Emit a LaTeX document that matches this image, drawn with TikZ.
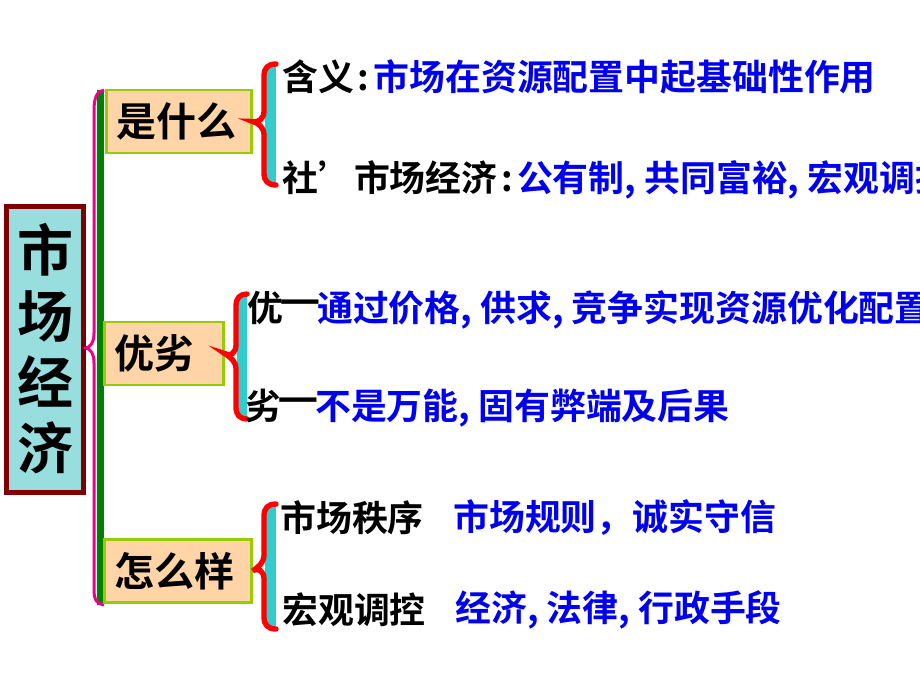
\documentclass[tikz,border=0pt]{standalone}
\usepackage{fontspec}
\setmainfont{Noto Sans CJK SC Bold}
\definecolor{peach}{HTML}{FFD5A8}
\definecolor{lime}{HTML}{99CC00}
\definecolor{teal2}{HTML}{33CCCC}
\definecolor{mcyan}{HTML}{99DEDE}
\definecolor{dred}{HTML}{800000}
\definecolor{tblue}{HTML}{0000F0}
\definecolor{dgreen}{HTML}{008000}
\newcommand{\cln}{\hspace{3pt}:\hspace{3pt}}
\newcommand{\ldash}{\makebox[0.95em][c]{\raisebox{0.16em}{\scalebox{1.28}[1.3]{—}}}}
\begin{document}
\begin{tikzpicture}[x=0.75pt,y=-0.75pt,
  catbox/.style={draw=lime, line width=2pt, fill=peach, font=\fontsize{30}{36}\selectfont,
    inner xsep=7.5pt, inner ysep=0pt, anchor=west, minimum height=47.25pt, align=left},
  item/.style={anchor=west, inner sep=0pt, font=\fontsize{26.9}{30}\selectfont},
  redbrace/.style={draw=red, line width=4pt, line cap=round},
]
\useasboundingbox (0,0) rectangle (920,690);
% main box
\node[draw=dred, line width=3.75pt, fill=mcyan, minimum width=57.75pt, minimum height=214.5pt,
  inner sep=0pt, align=center, font=\fontsize{42}{49.5}\selectfont] (main) at (45,349) {市\\场\\经\\济};
% trunk
\fill[dgreen] (97,90) rectangle (104,605);
\draw[magenta, line width=2.25pt] (104,90) .. controls (97,91) and (94,98) .. (94,110) -- (94,333)
  .. controls (94,343) and (90,347) .. (main.east |- 0,348) .. controls (90,349) and (94,353) .. (94,363)
  -- (94,590) .. controls (94,600) and (97,604) .. (104,605);
% category boxes
\node[catbox, text width=93.75pt] (b1) at (105,121.5) {是什么};
\node[catbox, text width=74.25pt] (b2) at (103,353.5) {优劣};
\node[catbox, text width=95.25pt] (b3) at (103,571) {怎么样};
% braces
\fill[teal2] (265,66) rectangle (276,183);
\draw[redbrace] (276,64) .. controls (268,64) and (264,68) .. (264,76) -- (264,111)
  .. controls (264,119) and (258,123) .. (b1.east) .. controls (258,123) and (264,127) .. (264,135)
  -- (264,173) .. controls (264,181) and (268,185) .. (276,185);
\fill[teal2] (237,296) rectangle (247,417);
\draw[redbrace] (247,294) .. controls (240,294) and (236,298) .. (236,306) -- (236,345)
  .. controls (236,353) and (230,357) .. (b2.east) .. controls (230,357) and (236,361) .. (236,369)
  -- (236,407) .. controls (236,415) and (240,419) .. (247,419);
\fill[teal2] (265,506) rectangle (276,627);
\draw[redbrace] (276,504) .. controls (268,504) and (264,508) .. (264,516) -- (264,555)
  .. controls (264,563) and (258,567) .. (b3.east) .. controls (258,567) and (264,571) .. (264,579)
  -- (264,617) .. controls (264,625) and (268,629) .. (276,629);
% items
\node[item] (t1) at (282,77) {含义\cln\textcolor{tblue}{市场在资源配置中起基础性作用}};
\node[item] (t2) at (282,180) {社’市场经济\cln\textcolor{tblue}{公有制, 共同富裕, 宏观调控}};
\node[item] (t3) at (247,310) {优\ldash\textcolor{tblue}{通过价格, 供求, 竞争实现资源优化配置}};
\node[item] (t4) at (245,408) {劣\ldash\textcolor{tblue}{不是万能, 固有弊端及后果}};
\node[item] (t5) at (280,518) {市场秩序};
\node[item, text=tblue] (t5b) at (453,518) {市场规则，诚实守信};
\node[item] (t6) at (282,610) {宏观调控};
\node[item, text=tblue] (t6b) at (455,610) {经济, 法律, 行政手段};
\end{tikzpicture}
\end{document}
